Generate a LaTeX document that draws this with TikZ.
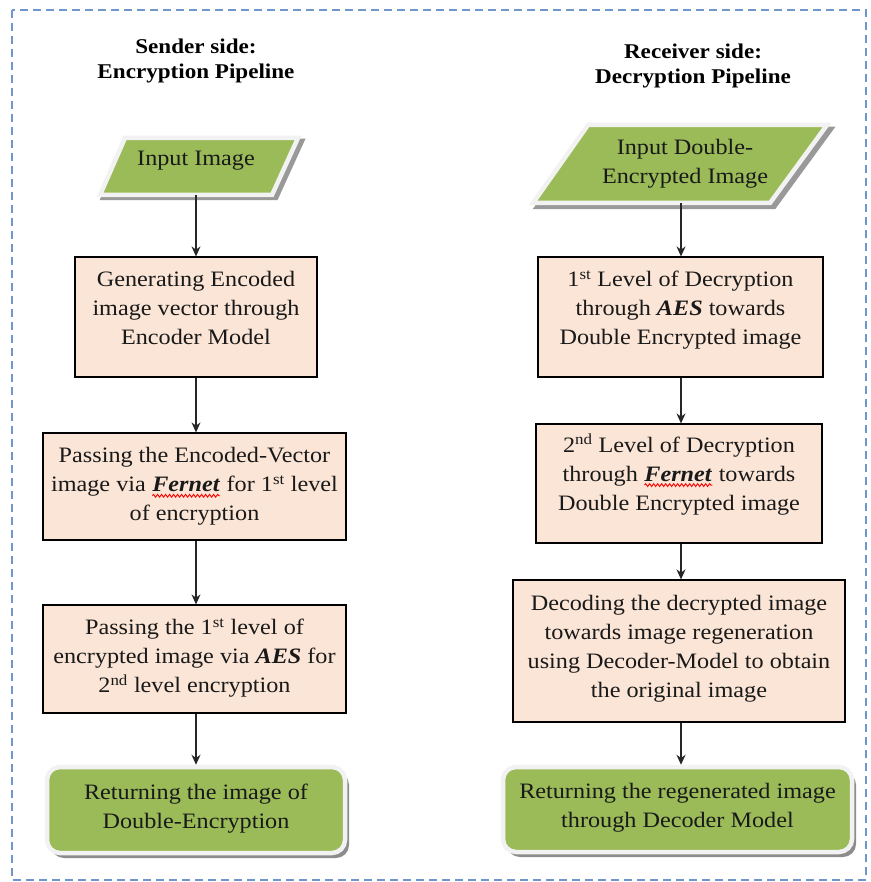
\documentclass[tikz,border=0pt]{standalone}
\usepackage{fontspec}
\setmainfont[FakeStretch=1.1]{Liberation Serif}
\usetikzlibrary{arrows.meta,shadows,calc,decorations.pathmorphing}

\definecolor{leafgreen}{HTML}{9BBB59}
\definecolor{peach}{HTML}{FBE5D6}
\definecolor{frameblue}{HTML}{6F97CC}
\definecolor{bevel}{HTML}{F2F2F2}

% red wavy mark under a word
\newcommand{\wavymark}[1]{\tikz[baseline=(w.base)]{\node[inner sep=0pt, outer sep=0pt,
    minimum width=0pt, minimum height=0pt, draw=none, fill=none] (w) {#1};
  \draw[red, line width=0.9pt, decorate, decoration={snake, amplitude=1.4pt, segment length=4pt}]
    ([yshift=-4pt]w.base west) -- ([yshift=-4pt]w.base east);}}
\newcommand{\cipher}[1]{\textbf{\textit{#1}}}

\tikzset{
  bodytext/.style={font=\fontsize{22}{29}\selectfont, align=center, text=black!90},
  titletext/.style={font=\bfseries\fontsize{21}{25}\selectfont, align=center},
  procbox/.style={bodytext, draw=black, line width=1.2pt, fill=peach, inner sep=0pt},
  endbox/.style={bodytext, fill=leafgreen, draw=bevel, line width=4.5pt,
    rounded corners=13pt, inner sep=0pt,
    drop shadow={shadow xshift=4pt, shadow yshift=-5pt, fill=black!45, opacity=1}},
  iobox/.style={bodytext, inner sep=0pt},
  ioshape/.style={fill=leafgreen, draw=bevel, line width=4.5pt, line join=miter},
  ioshade/.style={fill=black!40, draw=black!40, line width=4.5pt},
  flow/.style={draw=black!85, line width=1.3pt, -{Stealth[length=10pt,width=9pt]}},
  frame/.style={draw=frameblue, line width=1.5pt, dash pattern=on 8pt off 5pt}
}

\begin{document}
\begin{tikzpicture}[x=1pt,y=-1pt]
\useasboundingbox (0,0) rectangle (870,882);

% outer dashed frame
\draw[frame] (12,10) rectangle (866,880);

% column headings
\node[titletext] (hs) at (196,61) {Sender side:\\Encryption Pipeline};
\node[titletext] (hr) at (693,66) {Receiver side:\\Decryption Pipeline};

% ---------------- sender side ----------------
\fill[ioshade] (128,141) -- (302,141) -- (276,198) -- (103,198) -- cycle;
\draw[ioshape] (125,138) -- (298,138) -- (272,195) -- (100,195) -- cycle;
\node[iobox, minimum width=172pt, minimum height=57pt] (s0) at (196,166.5)
  {\raisebox{17pt}{Input Image}};

\node[procbox, minimum width=242pt, minimum height=120pt] (s1) at (196,317)
  {Generating Encoded\\image vector through\\Encoder Model\\[-10pt]\mbox{}};
\node[procbox, minimum width=303pt, minimum height=107pt] (s2) at (194.5,486.5)
  {Passing the Encoded-Vector\\image via \wavymark{\cipher{Fernet}} for 1\textsuperscript{st} level\\of encryption};
\node[procbox, minimum width=303pt, minimum height=108pt] (s3) at (194.5,659)
  {Passing the 1\textsuperscript{st} level of\\encrypted image via \cipher{AES} for\\2\textsuperscript{nd} level encryption\\[-22pt]\mbox{}};
\node[endbox, minimum width=298pt, minimum height=86pt] (s4) at (196,810)
  {Returning the image of\\Double-Encryption\\[-22pt]\mbox{}};

\draw[flow] (s0.south -| 196,0) -- (s1.north -| 196,0);
\draw[flow] (s1.south -| 196,0) -- (s2.north -| 196,0);
\draw[flow] (s2.south -| 196,0) -- (s3.north -| 196,0);
\draw[flow] (s3.south -| 196,0) -- (s4.north -| 196,0);

% ---------------- receiver side ----------------
\fill[ioshade] (592,129) -- (831,129) -- (774,207) -- (537,207) -- cycle;
\draw[ioshape] (588,125) -- (827,125) -- (770,203) -- (533,203) -- cycle;
\node[iobox, minimum width=238pt, minimum height=78pt] (r0) at (681,164)
  {\hspace*{8pt}Input Double-\\\hspace*{8pt}Encrypted Image\\[-24pt]\mbox{}};

\node[procbox, minimum width=285pt, minimum height=120pt] (r1) at (680.5,317)
  {1\textsuperscript{st} Level of Decryption\\through \cipher{AES} towards\\Double Encrypted image\\[-10pt]\mbox{}};
\node[procbox, minimum width=286pt, minimum height=119pt] (r2) at (679,483.5)
  {2\textsuperscript{nd} Level of Decryption\\through \wavymark{\cipher{Fernet}} towards\\Double Encrypted image\\[-6pt]\mbox{}};
\node[procbox, minimum width=332pt, minimum height=142pt] (r3) at (679,651)
  {Decoding the decrypted image\\towards image regeneration\\using Decoder-Model to obtain\\the original image\\[-20pt]\mbox{}};
\node[endbox, minimum width=349pt, minimum height=85pt] (r4) at (677.5,809.5)
  {Returning the regenerated image\\through Decoder Model\\[-20pt]\mbox{}};

\draw[flow] (r0.south -| 681,0) -- (r1.north -| 681,0);
\draw[flow] (r1.south -| 681,0) -- (r2.north -| 681,0);
\draw[flow] (r2.south -| 681,0) -- (r3.north -| 681,0);
\draw[flow] (r3.south -| 681,0) -- (r4.north -| 681,0);
\end{tikzpicture}
\end{document}
